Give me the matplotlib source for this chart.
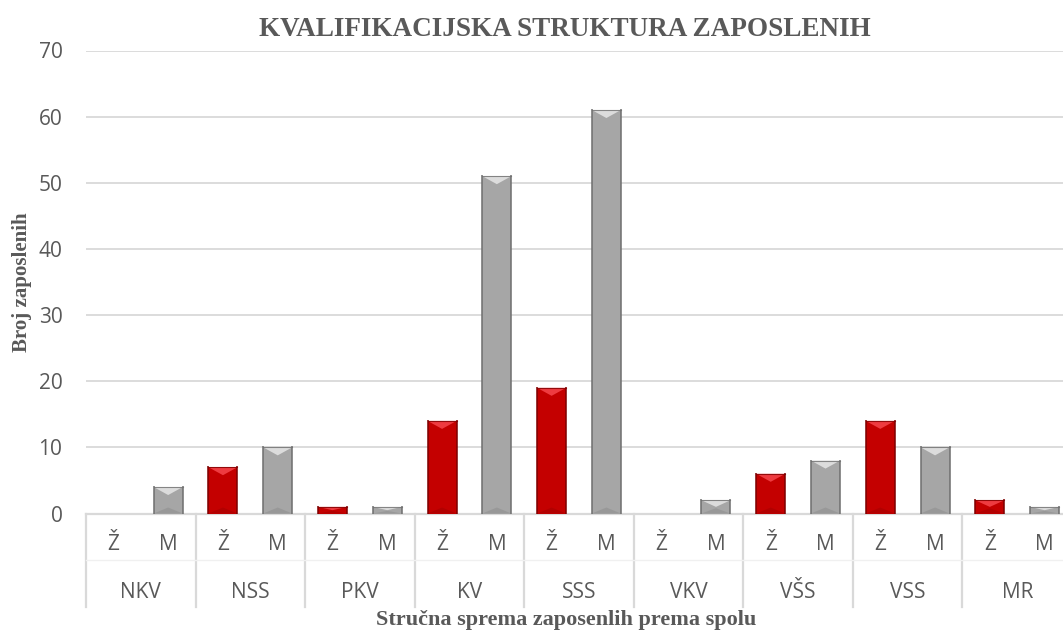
import numpy as np
import matplotlib.pyplot as plt
from matplotlib.patches import Polygon
from matplotlib.lines import Line2D
import matplotlib.transforms as mtransforms

# =========================================================
# DONNEES
# =========================================================

groups = ["NKV", "NSS", "PKV", "KV", "SSS", "VKV", "VŠS", "VSS", "MR"]
sexes = ["Ž", "M"]
zene = [0, 7, 1, 14, 19, 0, 6, 14, 2]
muski = [4, 10, 1, 51, 61, 2, 8, 10, 1]

yticks = [0, 10, 20, 30, 40, 50, 60, 70]

TXT = "#595959"
GRID = "#D9D9D9"
# (corps, biseau clair, bord sombre)
RED = ("#C40000", "#EE3B40", "#7E0000")
GREY = ("#A6A6A6", "#DCDCDC", "#707070")


def bevel(ax, patch, colors, px_y):
    """Effet biseauté type Excel sur une barre."""
    x0 = patch.get_x()
    w = patch.get_width()
    h = patch.get_height()
    if h <= 0:
        return
    x1 = x0 + w
    xc = x0 + w / 2
    d = min(8 * px_y, h * 0.5)
    # biseau haut (clair)
    ax.add_patch(Polygon(
        [(x0, h), (x1, h), (xc, h - d)],
        closed=True, facecolor=colors[1], edgecolor="none", zorder=4
    ))
    # biseau bas (sombre)
    ax.add_patch(Polygon(
        [(x0, 0), (x1, 0), (xc, min(6 * px_y, h * 0.4))],
        closed=True, facecolor=colors[2], edgecolor="none", alpha=0.25,
        zorder=4
    ))
    # bords latéraux
    for xs in (x0, x1):
        ax.add_line(Line2D([xs, xs], [0, h], color=colors[2], lw=1.4,
                           alpha=0.8, zorder=5))
    ax.add_line(Line2D([x0, x1], [h, h], color=colors[2], lw=0.8,
                       alpha=0.8, zorder=5))


fig = plt.figure(figsize=(10.63, 6.33), dpi=100)
ax = fig.add_axes([86 / 1063, 1 - 513.5 / 633, 986 / 1063, 463 / 633])

n = len(groups)
x_z = np.arange(n) * 2
x_m = x_z + 1
width = 0.53

bars_z = ax.bar(x_z, zene, width=width, color=RED[0], zorder=3)
bars_m = ax.bar(x_m, muski, width=width, color=GREY[0], zorder=3)

ax.set_xlim(-0.5, 2 * n - 0.5)
ax.set_ylim(0, 70)
px_y = 70 / 463

for p in bars_z:
    bevel(ax, p, RED, px_y)
for p in bars_m:
    bevel(ax, p, GREY, px_y)

ax.set_yticks(yticks)
ax.yaxis.grid(True, color=GRID, lw=1.3, zorder=0)
ax.set_axisbelow(True)
ax.tick_params(axis="y", length=0, pad=17, labelsize=15, labelcolor=TXT)
for lab in ax.get_yticklabels():
    lab.set_family("Open Sans")
ax.set_xticks([])
for s in ax.spines.values():
    s.set_visible(False)
ax.axhline(0, color=GRID, lw=1.6, zorder=2, clip_on=False)

# Axe catégoriel à deux niveaux
trans = mtransforms.blended_transform_factory(ax.transData, fig.transFigure)
y_sex = 1 - 545 / 633
y_grp = 1 - 592 / 633
y_bot = 1 - 607 / 633
y_mid = 1 - 560 / 633
y_top = 1 - 513.5 / 633

for i, g in enumerate(groups):
    for k, s in enumerate(sexes):
        ax.text(2 * i + k, y_sex, s, transform=trans, ha="center",
                va="center", fontsize=15, color=TXT, family="Open Sans")
    ax.text(2 * i + 0.5, y_grp, g, transform=trans, ha="center",
            va="center", fontsize=15, color=TXT, family="Open Sans")

for i in range(n + 1):
    ax.add_line(Line2D([2 * i - 0.5] * 2, [y_top, y_bot], transform=trans,
                       color=GRID, lw=1.6, clip_on=False))
ax.add_line(Line2D([-0.5, 2 * n - 0.5], [y_mid, y_mid], transform=trans,
                   color="#F0F0F0", lw=1, clip_on=False))

fig.text(565 / 1063, 1 - 30 / 633, "KVALIFIKACIJSKA STRUKTURA ZAPOSLENIH",
         ha="center", va="center", fontsize=19.5, fontweight="bold",
         color=TXT, family="Liberation Serif")
fig.text(22 / 1063, 1 - 282 / 633, "Broj zaposlenih", rotation=90,
         ha="center", va="center", fontsize=15, fontweight="bold",
         color=TXT, family="Liberation Serif")
fig.text(566 / 1063, 1 - 620 / 633, "Stručna sprema zaposenlih prema spolu",
         ha="center", va="center", fontsize=16, fontweight="bold",
         color=TXT, family="Liberation Serif")

plt.savefig("out.png", dpi=100)
